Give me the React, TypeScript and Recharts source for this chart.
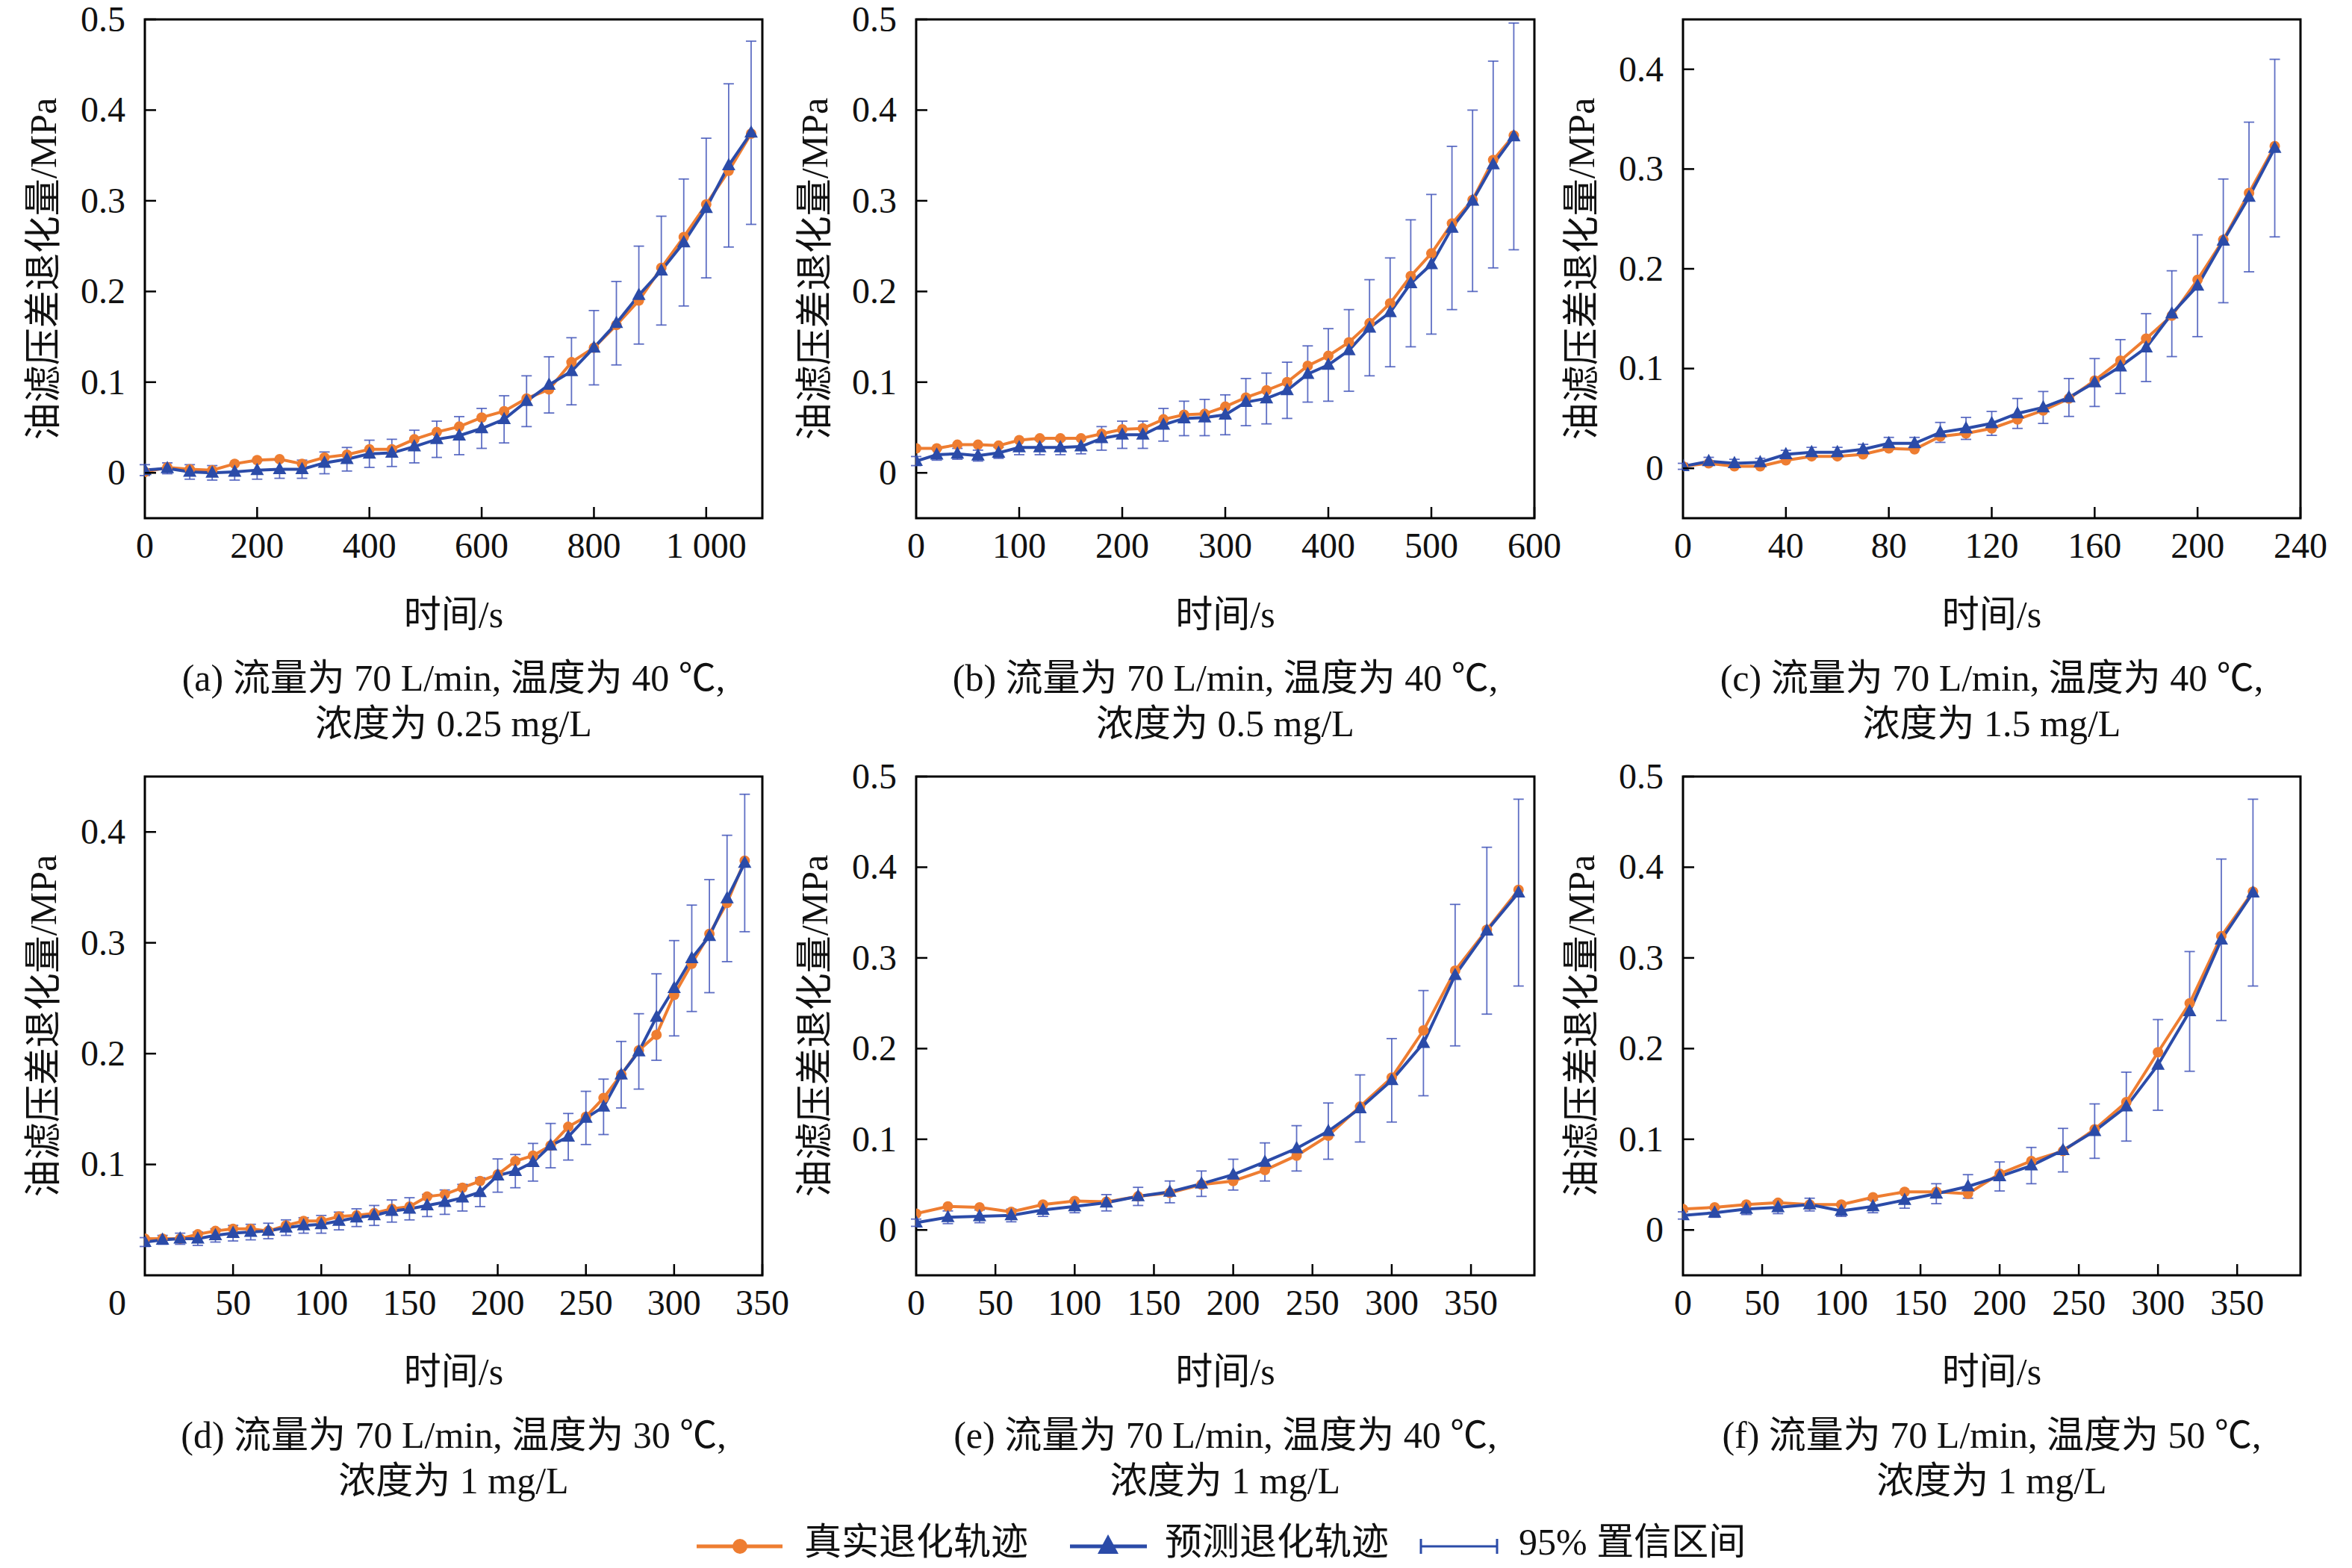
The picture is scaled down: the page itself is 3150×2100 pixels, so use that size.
import React from "react";
import { LineChart, Line, XAxis, YAxis, ErrorBar, ReferenceArea } from "recharts";

// ---- data (time in s, pressure drop in MPa) ----
const TIME_A = [0, 40, 80, 120, 160, 200, 240, 280, 320, 360, 400, 440, 480, 520, 560, 600, 640, 680, 720, 760, 800, 840, 880, 920, 960, 1000, 1040, 1080];
const REAL_A = [0.001, 0.006, 0.004, 0.003, 0.010, 0.014, 0.015, 0.010, 0.017, 0.020, 0.026, 0.026, 0.037, 0.045, 0.051, 0.061, 0.068, 0.082, 0.092, 0.122, 0.138, 0.163, 0.190, 0.226, 0.260, 0.296, 0.333, 0.374];
const PRED_A = [0.003, 0.005, 0.001, 0.000, 0.001, 0.003, 0.004, 0.004, 0.011, 0.015, 0.021, 0.022, 0.029, 0.037, 0.041, 0.049, 0.059, 0.079, 0.097, 0.112, 0.138, 0.165, 0.196, 0.223, 0.254, 0.292, 0.339, 0.375];
const CI_A = [0.006, 0.006, 0.008, 0.008, 0.009, 0.010, 0.010, 0.010, 0.012, 0.013, 0.015, 0.015, 0.018, 0.020, 0.021, 0.022, 0.026, 0.028, 0.031, 0.037, 0.041, 0.046, 0.054, 0.060, 0.070, 0.077, 0.090, 0.101];

const TIME_B = [0, 20, 40, 60, 80, 100, 120, 140, 160, 180, 200, 220, 240, 260, 280, 300, 320, 340, 360, 380, 400, 420, 440, 460, 480, 500, 520, 540, 560, 580];
const REAL_B = [0.027, 0.027, 0.031, 0.031, 0.030, 0.036, 0.038, 0.038, 0.038, 0.043, 0.048, 0.049, 0.059, 0.064, 0.065, 0.073, 0.083, 0.091, 0.100, 0.118, 0.129, 0.144, 0.165, 0.187, 0.217, 0.242, 0.275, 0.301, 0.345, 0.372];
const PRED_B = [0.013, 0.020, 0.021, 0.019, 0.022, 0.028, 0.028, 0.028, 0.029, 0.038, 0.042, 0.042, 0.053, 0.060, 0.061, 0.064, 0.078, 0.082, 0.091, 0.109, 0.119, 0.135, 0.160, 0.177, 0.209, 0.230, 0.270, 0.300, 0.340, 0.371];
const CI_B = [0.005, 0.006, 0.006, 0.006, 0.006, 0.008, 0.008, 0.008, 0.008, 0.013, 0.015, 0.015, 0.018, 0.019, 0.020, 0.022, 0.026, 0.028, 0.031, 0.031, 0.040, 0.045, 0.053, 0.060, 0.070, 0.077, 0.090, 0.100, 0.114, 0.125];

const TIME_C = [0, 10, 20, 30, 40, 50, 60, 70, 80, 90, 100, 110, 120, 130, 140, 150, 160, 170, 180, 190, 200, 210, 220, 230];
const REAL_C = [0.002, 0.005, 0.002, 0.002, 0.008, 0.012, 0.012, 0.014, 0.020, 0.019, 0.032, 0.035, 0.040, 0.049, 0.058, 0.070, 0.088, 0.108, 0.130, 0.153, 0.189, 0.229, 0.276, 0.323];
const PRED_C = [0.002, 0.007, 0.005, 0.006, 0.014, 0.016, 0.016, 0.019, 0.025, 0.025, 0.036, 0.040, 0.045, 0.055, 0.061, 0.071, 0.086, 0.102, 0.121, 0.155, 0.183, 0.228, 0.272, 0.321];
const CI_C = [0.003, 0.004, 0.004, 0.004, 0.004, 0.005, 0.005, 0.005, 0.006, 0.006, 0.010, 0.011, 0.012, 0.015, 0.016, 0.019, 0.024, 0.027, 0.034, 0.043, 0.051, 0.062, 0.075, 0.089];

const TIME_D = [0, 10, 20, 30, 40, 50, 60, 70, 80, 90, 100, 110, 120, 130, 140, 150, 160, 170, 180, 190, 200, 210, 220, 230, 240, 250, 260, 270, 280, 290, 300, 310, 320, 330, 340];
const REAL_D = [0.033, 0.033, 0.033, 0.037, 0.040, 0.042, 0.042, 0.040, 0.045, 0.049, 0.049, 0.053, 0.054, 0.056, 0.060, 0.062, 0.071, 0.073, 0.079, 0.085, 0.091, 0.103, 0.108, 0.117, 0.134, 0.143, 0.160, 0.181, 0.203, 0.217, 0.253, 0.281, 0.308, 0.336, 0.374];
const PRED_D = [0.030, 0.032, 0.033, 0.033, 0.036, 0.038, 0.039, 0.040, 0.043, 0.045, 0.046, 0.049, 0.052, 0.054, 0.058, 0.060, 0.063, 0.066, 0.070, 0.075, 0.090, 0.094, 0.102, 0.117, 0.125, 0.142, 0.152, 0.181, 0.202, 0.233, 0.259, 0.286, 0.306, 0.340, 0.372];
const CI_D = [0.004, 0.004, 0.005, 0.006, 0.006, 0.007, 0.007, 0.007, 0.007, 0.007, 0.008, 0.008, 0.008, 0.009, 0.010, 0.010, 0.010, 0.011, 0.012, 0.013, 0.015, 0.015, 0.017, 0.020, 0.021, 0.024, 0.025, 0.030, 0.034, 0.039, 0.043, 0.048, 0.051, 0.057, 0.062];

const TIME_E = [0, 20, 40, 60, 80, 100, 120, 140, 160, 180, 200, 220, 240, 260, 280, 300, 320, 340, 360, 380];
const REAL_E = [0.018, 0.026, 0.025, 0.020, 0.028, 0.032, 0.031, 0.037, 0.041, 0.050, 0.054, 0.066, 0.082, 0.104, 0.136, 0.168, 0.220, 0.286, 0.331, 0.375];
const PRED_E = [0.008, 0.014, 0.015, 0.016, 0.022, 0.026, 0.030, 0.037, 0.042, 0.051, 0.061, 0.075, 0.090, 0.109, 0.134, 0.165, 0.206, 0.281, 0.330, 0.372];
const CI_E = [0.004, 0.007, 0.007, 0.007, 0.007, 0.007, 0.009, 0.010, 0.012, 0.014, 0.017, 0.021, 0.025, 0.031, 0.037, 0.046, 0.058, 0.078, 0.092, 0.103];

const TIME_F = [0, 20, 40, 60, 80, 100, 120, 140, 160, 180, 200, 220, 240, 260, 280, 300, 320, 340, 360];
const REAL_F = [0.023, 0.025, 0.028, 0.030, 0.028, 0.028, 0.036, 0.042, 0.042, 0.040, 0.062, 0.076, 0.087, 0.111, 0.141, 0.196, 0.250, 0.324, 0.373];
const PRED_F = [0.016, 0.019, 0.023, 0.025, 0.028, 0.021, 0.026, 0.033, 0.040, 0.048, 0.059, 0.071, 0.088, 0.109, 0.136, 0.182, 0.241, 0.320, 0.372];
const CI_F = [0.004, 0.005, 0.006, 0.007, 0.007, 0.006, 0.007, 0.009, 0.011, 0.013, 0.016, 0.020, 0.024, 0.030, 0.038, 0.050, 0.066, 0.089, 0.103];

// axis ticks
const X_TICKS_A = [0, 200, 400, 600, 800, 1000];
const X_TICKS_B = [0, 100, 200, 300, 400, 500, 600];
const X_TICKS_C = [0, 40, 80, 120, 160, 200, 240];
const X_TICKS_D = [0, 50, 100, 150, 200, 250, 300, 350];
const X_TICKS_EF = [0, 50, 100, 150, 200, 250, 300, 350];
const Y_TICKS_05 = [0, 0.1, 0.2, 0.3, 0.4, 0.5];
const Y_TICKS_04 = [0, 0.1, 0.2, 0.3, 0.4];
const Y_TICKS_D = [0.1, 0.2, 0.3, 0.4];

const Y_TITLE = "油滤压差退化量/MPa";
const X_TITLE = "时间/s";
const LEGEND_LABELS = ["真实退化轨迹", "预测退化轨迹", "95% 置信区间"];

const FONT = "'Liberation Serif', 'Times New Roman', 'Noto Sans CJK SC', serif";
const ORANGE = "#EE7D31";
const BLUE = "#2B4BA8";
const CI_BLUE = "#4356BA";

const PAD_L = 175;
const PAD_R = 50;
const PAD_T = 26;
const PAD_B = 160;
const TICK_MARGIN_X = 19;
const TICK_MARGIN_Y = 26;
const TICK_LEN = 15;

const fmtX = (v: number) => (v >= 1000 ? `${Math.floor(v / 1000)} ${String(v % 1000).padStart(3, "0")}` : String(v));
const fmtY = (v: number) => (v === 0 ? "0" : String(Number(v.toFixed(1))));

const COL_LEFT = [194, 1227, 2254];
const COL_W = [827, 828, 827];
const ROW_TOP = [26, 1040];
const BOX_H = 668;

const PANELS = [
  { col: 0, row: 0, t: TIME_A, real: REAL_A, pred: PRED_A, ci: CI_A, xDomain: [0, 1100], xTicks: X_TICKS_A, yDomain: [-0.05, 0.5], yTicks: Y_TICKS_05, caption: ["(a) 流量为 70 L/min, 温度为 40 ℃,", "浓度为 0.25 mg/L"] },
  { col: 1, row: 0, t: TIME_B, real: REAL_B, pred: PRED_B, ci: CI_B, xDomain: [0, 600], xTicks: X_TICKS_B, yDomain: [-0.05, 0.5], yTicks: Y_TICKS_05, caption: ["(b) 流量为 70 L/min, 温度为 40 ℃,", "浓度为 0.5 mg/L"] },
  { col: 2, row: 0, t: TIME_C, real: REAL_C, pred: PRED_C, ci: CI_C, xDomain: [0, 240], xTicks: X_TICKS_C, yDomain: [-0.05, 0.45], yTicks: Y_TICKS_04, caption: ["(c) 流量为 70 L/min, 温度为 40 ℃,", "浓度为 1.5 mg/L"] },
  { col: 0, row: 1, t: TIME_D, real: REAL_D, pred: PRED_D, ci: CI_D, xDomain: [0, 350], xTicks: X_TICKS_D, yDomain: [0, 0.45], yTicks: Y_TICKS_D, originShift: -37, caption: ["(d) 流量为 70 L/min, 温度为 30 ℃,", "浓度为 1 mg/L"] },
  { col: 1, row: 1, t: TIME_E, real: REAL_E, pred: PRED_E, ci: CI_E, xDomain: [0, 390], xTicks: X_TICKS_EF, yDomain: [-0.05, 0.5], yTicks: Y_TICKS_05, caption: ["(e) 流量为 70 L/min, 温度为 40 ℃,", "浓度为 1 mg/L"] },
  { col: 2, row: 1, t: TIME_F, real: REAL_F, pred: PRED_F, ci: CI_F, xDomain: [0, 390], xTicks: X_TICKS_EF, yDomain: [-0.05, 0.5], yTicks: Y_TICKS_05, caption: ["(f) 流量为 70 L/min, 温度为 50 ℃,", "浓度为 1 mg/L"] },
];

// triangle marker for the predicted series
function Triangle(props: any) {
  const { cx, cy, index } = props;
  if (cx == null || cy == null) return <g key={`tri-${index}`} />;
  return <path key={`tri-${index}`} d={`M${cx},${cy - 10} L${cx + 9},${cy + 6.5} L${cx - 9},${cy + 6.5} Z`} fill={BLUE} />;
}

function Panel({ p }: { p: (typeof PANELS)[number] }) {
  const data = p.t.map((t, i) => ({ t, real: p.real[i], pred: p.pred[i], ci: p.ci[i] }));
  const left = COL_LEFT[p.col];
  const width = COL_W[p.col];
  const top = ROW_TOP[p.row];
  const boxCx = left + width / 2;

  const xTick = (tp: any) => {
    const { x, y, payload } = tp;
    const axisY = y - TICK_MARGIN_X;
    const isOrigin = payload.value === 0;
    const shift = isOrigin && p.originShift ? p.originShift : 0;
    return (
      <g>
        {!isOrigin && <line x1={x} x2={x} y1={axisY} y2={axisY - TICK_LEN} stroke="#000" strokeWidth={2.5} />}
        <text x={x + shift} y={y} dy="0.71em" textAnchor="middle" fontSize={48} fontFamily={FONT} fill="#111">
          {fmtX(payload.value)}
        </text>
      </g>
    );
  };

  const yTick = (tp: any) => {
    const { x, y, payload } = tp;
    const axisX = x + TICK_MARGIN_Y;
    return (
      <g>
        <line x1={axisX} x2={axisX + TICK_LEN} y1={y} y2={y} stroke="#000" strokeWidth={2.5} />
        <text x={x} y={y} dy="0.33em" textAnchor="end" fontSize={48} fontFamily={FONT} fill="#111">
          {fmtY(payload.value)}
        </text>
      </g>
    );
  };

  return (
    <>
      <div style={{ position: "absolute", left: left - PAD_L, top: top - PAD_T }}>
        <LineChart
          width={width + PAD_L + PAD_R}
          height={BOX_H + PAD_T + PAD_B}
          data={data}
          margin={{ top: PAD_T, right: PAD_R, bottom: 0, left: 0 }}
        >
          <XAxis
            dataKey="t"
            type="number"
            domain={p.xDomain}
            ticks={p.xTicks}
            interval={0}
            allowDataOverflow
            height={PAD_B}
            axisLine={false}
            tickLine={false}
            tickSize={0}
            tickMargin={TICK_MARGIN_X}
            tick={xTick}
            label={{ value: X_TITLE, position: "insideTop", offset: 110, fontSize: 50, fontFamily: FONT, fill: "#111" }}
          />
          <YAxis
            type="number"
            domain={p.yDomain}
            ticks={p.yTicks}
            interval={0}
            allowDataOverflow
            width={PAD_L}
            axisLine={false}
            tickLine={false}
            tickSize={0}
            tickMargin={TICK_MARGIN_Y}
            tick={yTick}
            label={{ value: Y_TITLE, angle: -90, position: "insideLeft", offset: 38, textAnchor: "middle", fontSize: 50, fontFamily: FONT, fill: "#111" }}
          />
          <ReferenceArea
            x1={p.xDomain[0]}
            x2={p.xDomain[1]}
            y1={p.yDomain[0]}
            y2={p.yDomain[1]}
            fill="none"
            stroke="#000"
            strokeWidth={3}
            ifOverflow="visible"
          />
          <Line
            type="linear"
            dataKey="real"
            stroke={ORANGE}
            strokeWidth={4}
            dot={{ r: 7, fill: ORANGE, stroke: ORANGE, strokeWidth: 0 }}
            isAnimationActive={false}
          />
          <Line type="linear" dataKey="pred" stroke={BLUE} strokeWidth={4} dot={Triangle} isAnimationActive={false}>
            <ErrorBar dataKey="ci" direction="y" width={7} stroke={CI_BLUE} strokeWidth={1.8} strokeOpacity={0.85} isAnimationActive={false} />
          </Line>
        </LineChart>
      </div>
      <div
        style={{
          position: "absolute",
          left: boxCx - 500,
          width: 1000,
          top: top + BOX_H + 184,
          textAlign: "center",
          fontFamily: FONT,
          fontSize: 50,
          lineHeight: "61px",
          color: "#111",
        }}
      >
        <div>{p.caption[0]}</div>
        <div>{p.caption[1]}</div>
      </div>
    </>
  );
}

function Legend() {
  const textStyle: React.CSSProperties = {
    position: "absolute",
    top: 2034,
    fontFamily: FONT,
    fontSize: 50,
    lineHeight: "62px",
    color: "#111",
    whiteSpace: "nowrap",
  };
  return (
    <>
      <svg style={{ position: "absolute", left: 930, top: 2051 }} width={1100} height={40}>
        <line x1={3} x2={118} y1={20} y2={20} stroke={ORANGE} strokeWidth={5} />
        <circle cx={61} cy={20} r={10} fill={ORANGE} />
        <line x1={503} x2={606} y1={20} y2={20} stroke={BLUE} strokeWidth={5} />
        <path d="M554,4 L568,30 L540,30 Z" fill={BLUE} />
        <line x1={973} x2={1075} y1={20} y2={20} stroke={BLUE} strokeWidth={3} />
        <line x1={973} x2={973} y1={10} y2={30} stroke={BLUE} strokeWidth={3} />
        <line x1={1075} x2={1075} y1={10} y2={30} stroke={BLUE} strokeWidth={3} />
      </svg>
      <div style={{ ...textStyle, left: 1077 }}>{LEGEND_LABELS[0]}</div>
      <div style={{ ...textStyle, left: 1560 }}>{LEGEND_LABELS[1]}</div>
      <div style={{ ...textStyle, left: 2034 }}>{LEGEND_LABELS[2]}</div>
    </>
  );
}

export default function App() {
  return (
    <div style={{ position: "absolute", left: 0, top: 0, width: 3150, height: 2100, background: "#fff", overflow: "hidden" }}>
      {PANELS.map((p, i) => (
        <Panel key={i} p={p} />
      ))}
      <Legend />
    </div>
  );
}
